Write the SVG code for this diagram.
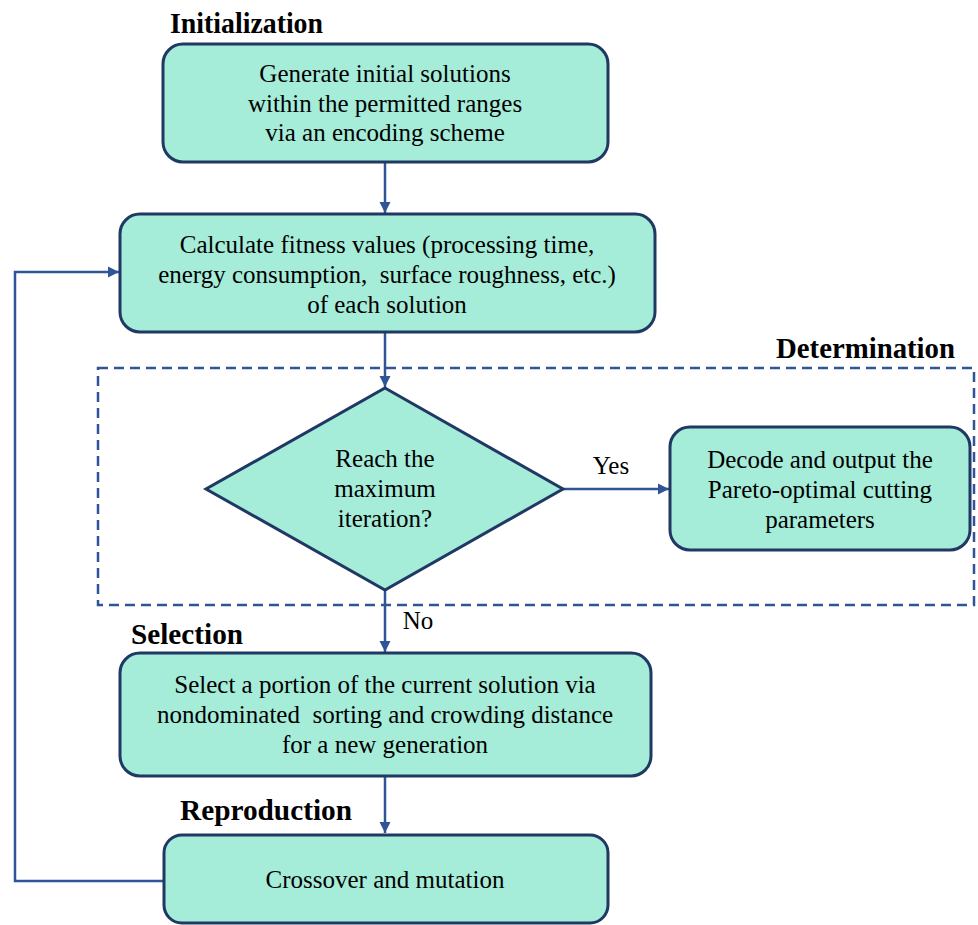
<svg xmlns="http://www.w3.org/2000/svg" width="978" height="925" viewBox="0 0 978 925">
<defs>
<style>
.box{fill:#A5ECD9;stroke:#203864;stroke-width:3}
.t{font-family:"Liberation Serif","Times New Roman",serif;font-size:25px;fill:#000;text-anchor:middle}
.h{font-family:"Liberation Serif","Times New Roman",serif;font-size:28.5px;font-weight:bold;fill:#000}
.c{fill:none;stroke:#2F5597;stroke-width:2.5}
</style>
<marker id="ah" viewBox="0 0 10 10" refX="10" refY="5" markerWidth="4.5" markerHeight="4.5" orient="auto" markerUnits="strokeWidth">
<path d="M0,0 L10,5 L0,10 z" fill="#2F5597"/>
</marker>
</defs>
<rect width="978" height="925" fill="#fff"/>
<g id="labels">
<text class="h" x="170" y="33" textLength="153" lengthAdjust="spacingAndGlyphs">Initialization</text>
<text class="h" x="776" y="358" textLength="179" lengthAdjust="spacingAndGlyphs">Determination</text>
<text class="h" x="131" y="644" textLength="112" lengthAdjust="spacingAndGlyphs">Selection</text>
<text class="h" x="180" y="820" textLength="172" lengthAdjust="spacingAndGlyphs">Reproduction</text>
<text class="t" x="611" y="474">Yes</text>
<text class="t" x="418" y="629">No</text>
</g>
<g id="determination-frame">
<rect x="98" y="368" width="876" height="237" fill="none" stroke="#2F5597" stroke-width="2.5" stroke-dasharray="10,6"/>
</g>
<g id="connectors">
<line class="c" x1="385" y1="162" x2="385" y2="213" marker-end="url(#ah)"/>
<line class="c" x1="385" y1="332" x2="385" y2="387" marker-end="url(#ah)"/>
<line class="c" x1="563" y1="489" x2="669" y2="489" marker-end="url(#ah)"/>
<line class="c" x1="385" y1="590" x2="385" y2="652" marker-end="url(#ah)"/>
<line class="c" x1="385" y1="776" x2="385" y2="833" marker-end="url(#ah)"/>
<polyline class="c" points="164,881 15,881 15,272 119,272" marker-end="url(#ah)"/>
</g>
<g id="init">
<rect class="box" x="163" y="44" width="445" height="118" rx="20"/>
<text class="t" x="385" y="82">Generate initial solutions</text>
<text class="t" x="385" y="112">within the permitted ranges</text>
<text class="t" x="385" y="141">via an encoding scheme</text>
</g>
<g id="fitness">
<rect class="box" x="120" y="214" width="535" height="118" rx="20"/>
<text class="t" x="387" y="253">Calculate fitness values (processing time,</text>
<text class="t" x="387" y="283" xml:space="preserve">energy consumption,  surface roughness, etc.)</text>
<text class="t" x="387" y="313">of each solution</text>
</g>
<g id="decision">
<polygon class="box" points="385,388 563,489 385,590 206,489"/>
<text class="t" x="385" y="467">Reach the</text>
<text class="t" x="385" y="497">maximum</text>
<text class="t" x="385" y="527">iteration?</text>
</g>
<g id="output">
<rect class="box" x="670" y="427" width="300" height="123" rx="20"/>
<text class="t" x="820" y="468">Decode and output the</text>
<text class="t" x="820" y="498">Pareto-optimal cutting</text>
<text class="t" x="820" y="528">parameters</text>
</g>
<g id="selection">
<rect class="box" x="120" y="653" width="531" height="123" rx="20"/>
<text class="t" x="385" y="693">Select a portion of the current solution via</text>
<text class="t" x="385" y="723" xml:space="preserve">nondominated  sorting and crowding distance</text>
<text class="t" x="385" y="753">for a new generation</text>
</g>
<g id="reproduction">
<rect class="box" x="164" y="835" width="444" height="88" rx="18"/>
<text class="t" x="385" y="888">Crossover and mutation</text>
</g>
</svg>
